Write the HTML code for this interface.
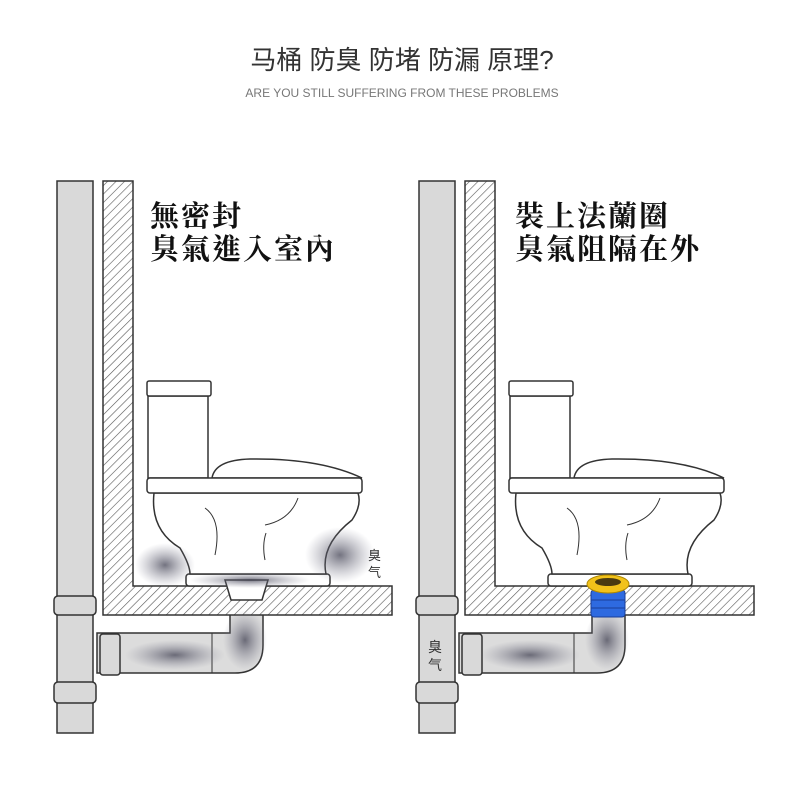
<!DOCTYPE html>
<html><head><meta charset="utf-8"><style>
html,body{margin:0;padding:0;background:#fff;width:800px;height:800px;overflow:hidden}
svg{display:block}
</style></head><body>
<svg width="800" height="800" viewBox="0 0 800 800" xmlns="http://www.w3.org/2000/svg">
<defs>
<pattern id="h" width="6" height="6" patternUnits="userSpaceOnUse" patternTransform="rotate(45)">
<rect width="6" height="6" fill="#fff"/><line x1="0" y1="0" x2="0" y2="6" stroke="#555" stroke-width="1.2"/>
</pattern>
<radialGradient id="sm"><stop offset="0" stop-color="#445" stop-opacity=".75"/><stop offset="1" stop-color="#889" stop-opacity="0"/></radialGradient>
<g id="base" stroke="#333" stroke-width="1.5">
  <rect x="57" y="181" width="36" height="552" fill="#d9d9d9"/>
  <rect x="54" y="596" width="42" height="19" rx="4" fill="#d9d9d9"/>
  <rect x="54" y="682" width="42" height="21" rx="4" fill="#d9d9d9"/>
  <path d="M97 633 H230 V612 H263 V645 Q263 673 235 673 H97 Z" fill="#dcdcdc"/>
  <rect x="100" y="634" width="20" height="41" rx="3" fill="#d9d9d9"/>
  <line x1="212" y1="633" x2="212" y2="673" stroke-width="1"/>
  <path d="M103 181 H133 V586 H392 V615 H103 Z" fill="url(#h)"/>
  <g fill="#fff">
    <rect x="186" y="574" width="144" height="12" rx="3"/>
    <path d="M154 493 Q150 530 180 548 Q190 565 190 574 H326 Q320 545 352 520 Q362 505 358 493 Z"/>
    <path d="M205 508 Q222 520 215 555" fill="none" stroke-width="1"/>
    <path d="M298 498 Q290 520 265 525" fill="none" stroke-width="1"/>
    <path d="M266 533 Q262 545 265 560" fill="none" stroke-width="1"/>
    <rect x="148" y="396" width="60" height="82"/>
    <rect x="147" y="381" width="64" height="15" rx="2"/>
    <path d="M212 478 Q215 460 250 459 Q320 458 362 478 Z"/>
    <rect x="147" y="478" width="215" height="15" rx="3"/>
  </g>
</g>
</defs>

<text x="402" y="69" text-anchor="middle" font-family="'Liberation Sans','Noto Sans CJK SC',sans-serif" font-size="26" fill="#333">马桶 防臭 防堵 防漏 原理?</text>
<text x="402" y="97" text-anchor="middle" font-family="'Liberation Sans',sans-serif" font-size="12" fill="#777">ARE YOU STILL SUFFERING FROM THESE PROBLEMS</text>

<use href="#base"/>
<path d="M225 580 H268 L262 600 H231 Z" fill="#fff" stroke="#333" stroke-width="1.5"/>
<ellipse cx="165" cy="565" rx="30" ry="22" fill="url(#sm)"/>
<ellipse cx="340" cy="555" rx="35" ry="28" fill="url(#sm)"/>
<ellipse cx="250" cy="580" rx="60" ry="8" fill="url(#sm)"/>
<ellipse cx="245" cy="640" rx="22" ry="30" fill="url(#sm)"/>
<ellipse cx="175" cy="655" rx="50" ry="15" fill="url(#sm)"/>
<text x="368" y="560" font-family="'Liberation Sans','Noto Sans CJK SC',sans-serif" font-size="13" fill="#333">臭</text>
<text x="368" y="577" font-family="'Liberation Sans','Noto Sans CJK SC',sans-serif" font-size="13" fill="#333">气</text>
<g font-family="'Liberation Serif','Noto Serif CJK TC','Noto Sans CJK TC',serif" font-size="29" font-weight="bold" fill="#111" letter-spacing="2">
<text x="150" y="226">無密封</text>
<text x="150" y="259">臭氣進入室內</text>
<text x="515" y="226">裝上法蘭圈</text>
<text x="515" y="259">臭氣阻隔在外</text>
</g>

<use href="#base" transform="translate(362,0)"/>
<ellipse cx="607" cy="640" rx="22" ry="30" fill="url(#sm)"/>
<ellipse cx="530" cy="655" rx="50" ry="15" fill="url(#sm)"/>
<rect x="591" y="590" width="34" height="27" rx="3" fill="#2e6ae0" stroke="#1a3f99"/>
<line x1="591" y1="600" x2="625" y2="600" stroke="#1a3f99"/>
<line x1="591" y1="608" x2="625" y2="608" stroke="#1a3f99"/>
<ellipse cx="608" cy="584" rx="21" ry="9" fill="#f2c21a" stroke="#b08900"/>
<ellipse cx="608" cy="582" rx="13" ry="4" fill="#4a3a10"/>
<text x="428" y="652" font-family="'Liberation Sans','Noto Sans CJK SC',sans-serif" font-size="14" fill="#333">臭</text>
<text x="428" y="670" font-family="'Liberation Sans','Noto Sans CJK SC',sans-serif" font-size="14" fill="#333">气</text>
</svg>
</body></html>
